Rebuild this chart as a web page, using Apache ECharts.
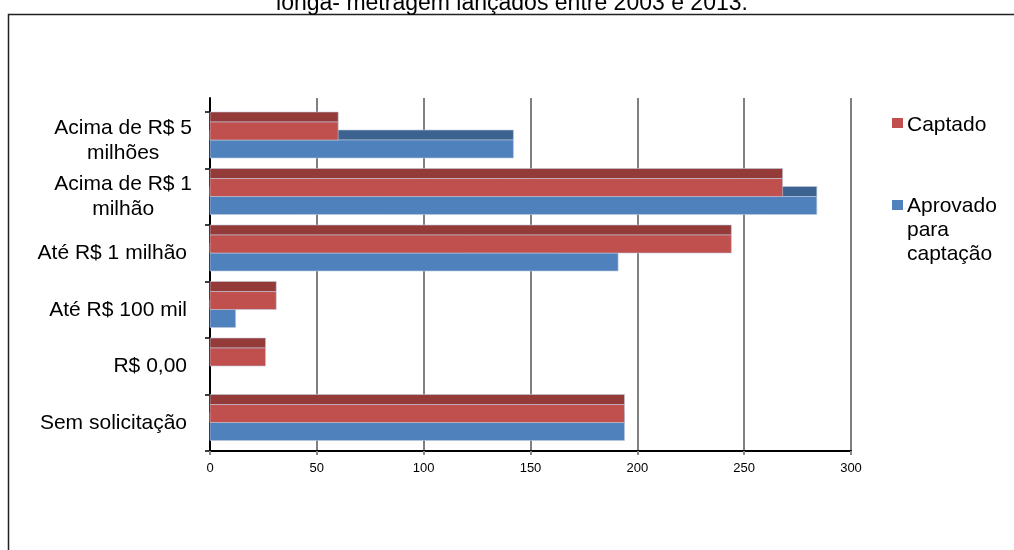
<!DOCTYPE html>
<html>
<head>
<meta charset="utf-8">
<script src="https://cdn.jsdelivr.net/npm/echarts@6/dist/echarts.min.js"></script>
<style>
  html, body { margin: 0; padding: 0; background: #fff; }
  #chart { width: 1014px; height: 550px; }
</style>
</head>
<body>
<div id="chart"></div>
<script>
// Faixas de valor solicitado
const categories = [
  'Acima de R$ 5 milhões',
  'Acima de R$ 1 milhão',
  'Até R$ 1 milhão',
  'Até R$ 100 mil',
  'R$ 0,00',
  'Sem solicitação'
];
// Número de filmes por faixa
const captado = [60, 268, 244, 31, 26, 194];
const aprovado = [142, 284, 191, 12, 0, 194];
const xTicks = [0, 50, 100, 150, 200, 250, 300];

const titleText = 'longa- metragem lançados entre 2003 e 2013.';
const legendNames = ['Captado', 'Aprovado\npara\ncaptação'];

const FONT = '"Liberation Sans", Arial, sans-serif';
const LABEL_SIZE = 21;
const RED = '#C0504D', RED_TOP = '#943A38';
const BLUE = '#4F81BD', BLUE_TOP = '#3C6290';

// Barra com face frontal e face superior (efeito 3D simples)
function barRenderer(front, topColor, faceStart, faceEnd, frontEnd) {
  return function (params, api) {
    const v = api.value(0);
    const c = api.value(1);
    if (!(v > 0)) return null;
    const p0 = api.coord([0, c]);
    const p1 = api.coord([v, c]);
    const band = api.size([0, 1])[1];
    const top = p0[1] - band / 2;
    const w = p1[0] - p0[0];
    return {
      type: 'group',
      children: [
        {
          type: 'rect',
          shape: { x: p0[0], y: top + band * faceStart, width: w, height: band * (faceEnd - faceStart) },
          style: { fill: topColor, stroke: 'rgba(190,200,220,0.6)', lineWidth: 1 }
        },
        {
          type: 'rect',
          shape: { x: p0[0], y: top + band * faceEnd, width: w, height: band * (frontEnd - faceEnd) },
          style: { fill: front, stroke: 'rgba(190,200,220,0.6)', lineWidth: 1 }
        }
      ]
    };
  };
}

const wrapped = {
  'Acima de R$ 5 milhões': ['Acima de R$ 5', 'milhões'],
  'Acima de R$ 1 milhão': ['Acima de R$ 1', 'milhão']
};

const chart = echarts.init(document.getElementById('chart'), null, { renderer: 'canvas' });

chart.setOption({
  animation: false,
  backgroundColor: '#fff',
  textStyle: { fontFamily: FONT },
  grid: [
    { left: 210, right: 163, top: 112, bottom: 99 },
    { left: 210, right: 163, top: 98, bottom: 99 }
  ],
  xAxis: [
    {
      type: 'value', gridIndex: 0, min: xTicks[0], max: xTicks[xTicks.length - 1], interval: 50,
      axisLine: { show: true, lineStyle: { color: '#000', width: 2 } },
      axisTick: { show: true, length: 4, lineStyle: { color: '#888', width: 2 } },
      axisLabel: { color: '#000', fontSize: 13, margin: 11, fontFamily: FONT },
      splitLine: { show: false }
    },
    {
      type: 'value', gridIndex: 1, min: xTicks[0], max: xTicks[xTicks.length - 1], interval: 50,
      axisLine: { show: false }, axisTick: { show: false }, axisLabel: { show: false },
      splitLine: { show: true, lineStyle: { color: '#808080', width: 2 } }
    }
  ],
  yAxis: [
    {
      type: 'category', gridIndex: 0, data: categories, inverse: true,
      axisLine: { show: true, lineStyle: { color: '#000', width: 2 } },
      axisTick: { show: true, length: 5, lineStyle: { color: '#000', width: 1.5 } },
      axisLabel: {
        margin: 18, align: 'right', color: '#000', fontSize: LABEL_SIZE, fontFamily: FONT, lineHeight: 25,
        formatter: function (v) {
          if (wrapped[v]) return '{a|' + wrapped[v][0] + '}\n{c|' + wrapped[v][1] + '}';
          return '{s|' + v + '}';
        },
        rich: {
          a: { fontSize: LABEL_SIZE, lineHeight: 25, fontFamily: FONT, color: '#000' },
          c: { fontSize: LABEL_SIZE, lineHeight: 25, fontFamily: FONT, color: '#000', align: 'center' },
          s: { fontSize: LABEL_SIZE, lineHeight: 25, fontFamily: FONT, color: '#000', padding: [0, 5, 0, 0] }
        }
      },
      splitLine: { show: false }
    },
    {
      type: 'value', gridIndex: 1, min: 0, max: 1,
      axisLine: { show: true, onZero: false, lineStyle: { color: '#000', width: 2 } },
      axisTick: { show: false }, axisLabel: { show: false }, splitLine: { show: false }
    }
  ],
  series: [
    {
      name: 'Aprovado para captação', type: 'custom', xAxisIndex: 0, yAxisIndex: 0, z: 3,
      renderItem: barRenderer(BLUE, BLUE_TOP, 0.319, 0.496, 0.814),
      encode: { x: 0, y: 1 },
      data: aprovado.map((v, i) => [v, i])
    },
    {
      name: 'Captado', type: 'custom', xAxisIndex: 0, yAxisIndex: 0, z: 4,
      renderItem: barRenderer(RED, RED_TOP, 0.0, 0.177, 0.496),
      encode: { x: 0, y: 1 },
      data: captado.map((v, i) => [v, i])
    }
  ],
  graphic: [
    {
      type: 'rect', silent: true, z: 0,
      shape: { x: 8.5, y: 14.5, width: 1100, height: 600 },
      style: { fill: null, stroke: '#222', lineWidth: 1.5 }
    },
    {
      type: 'text', silent: true,
      x: 512, y: 15,
      style: { text: titleText, font: '23px ' + FONT, fill: '#000', align: 'center', verticalAlign: 'bottom' }
    },
    { type: 'rect', shape: { x: 892, y: 118, width: 11, height: 10 }, style: { fill: RED } },
    {
      type: 'text', x: 907, y: 125,
      style: { text: legendNames[0], font: LABEL_SIZE + 'px ' + FONT, fill: '#000', verticalAlign: 'middle' }
    },
    { type: 'rect', shape: { x: 892, y: 200, width: 11, height: 10 }, style: { fill: BLUE } },
    {
      type: 'text', x: 907, y: 194,
      style: { text: legendNames[1], font: LABEL_SIZE + 'px ' + FONT, fill: '#000', verticalAlign: 'top', lineHeight: 24 }
    }
  ]
});
</script>
</body>
</html>
